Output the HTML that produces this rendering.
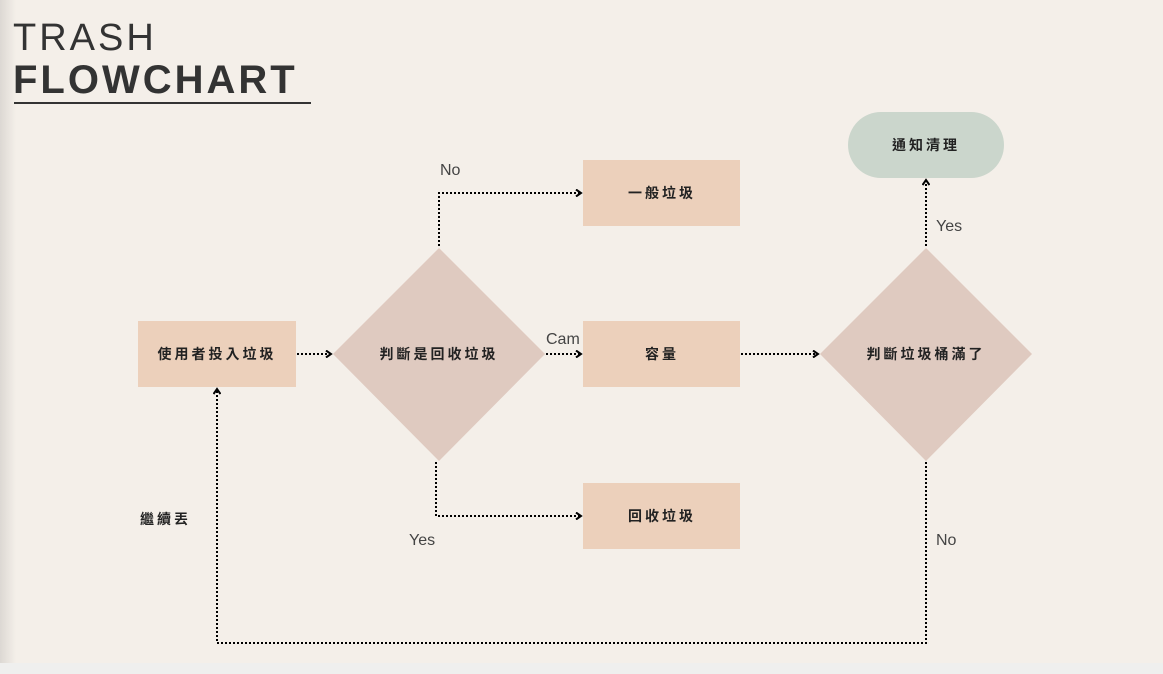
<!DOCTYPE html>
<html><head><meta charset="utf-8"><style>
html,body{margin:0;padding:0;}
body{width:1163px;height:674px;overflow:hidden;background:#f4efe9;position:relative;font-family:"Liberation Sans",sans-serif;}
.strip{position:absolute;left:0;top:663px;width:1163px;height:11px;background:#efefee;}
.shadow{position:absolute;left:0;top:0;width:16px;height:663px;background:linear-gradient(to right,#dcd8d3,#f4efe9);}
.t1{position:absolute;left:13px;top:17px;font-size:38px;letter-spacing:3px;color:#333;font-weight:normal;}
.t2{position:absolute;left:13px;top:58px;font-size:40px;letter-spacing:3px;color:#333;font-weight:bold;}
.ul{position:absolute;left:14px;top:102px;width:297px;height:2px;background:#333;}
svg{position:absolute;left:0;top:0;}
.cj{font-family:"Liberation Sans","Noto Sans CJK TC",sans-serif;font-weight:bold;font-size:14px;fill:#222;letter-spacing:3px;}
.lb{font-family:"Liberation Sans",sans-serif;font-size:16px;fill:#444;}
</style></head><body>
<div class="shadow"></div>
<div class="strip"></div>
<div class="t1">TRASH</div>
<div class="t2">FLOWCHART</div>
<div class="ul"></div>
<svg width="1163" height="674">
<defs><marker id="a" markerWidth="8" markerHeight="8" refX="6" refY="4" orient="auto" markerUnits="userSpaceOnUse"><path d="M1,0.5 L6,4 L1,7.5" fill="none" stroke="#000" stroke-width="2"/></marker></defs>
<rect x="138" y="321" width="158" height="66" fill="#ecd0bb"/>
<polygon points="439,248 545,354 439,461 333,354" fill="#dfcac0"/>
<rect x="583" y="160" width="157" height="66" fill="#ecd0bb"/>
<rect x="583" y="321" width="157" height="66" fill="#ecd0bb"/>
<rect x="583" y="483" width="157" height="66" fill="#ecd0bb"/>
<polygon points="926,248 1032,354 926,461 820,354" fill="#dfcac0"/>
<rect x="848" y="112" width="156" height="66" rx="33" fill="#cbd6cc"/>
<g fill="none" stroke="#000" stroke-width="2" stroke-dasharray="2,2">
<path d="M297,354 L331,354" marker-end="url(#a)"/>
<path d="M546,354 L581,354" marker-end="url(#a)"/>
<path d="M741,354 L818,354" marker-end="url(#a)"/>
<path d="M439,246 L439,193 L581,193" marker-end="url(#a)"/>
<path d="M436,462 L436,516 L581,516" marker-end="url(#a)"/>
<path d="M926,246 L926,180" marker-end="url(#a)"/>
<path d="M926,462 L926,643 L217,643 L217,389" marker-end="url(#a)"/>
</g>
<text class="cj" x="217" y="359" text-anchor="middle">使用者投入垃圾</text>
<text class="cj" x="439" y="359" text-anchor="middle">判斷是回收垃圾</text>
<text class="cj" x="662" y="198" text-anchor="middle">一般垃圾</text>
<text class="cj" x="662" y="359" text-anchor="middle">容量</text>
<text class="cj" x="662" y="521" text-anchor="middle">回收垃圾</text>
<text class="cj" x="926" y="359" text-anchor="middle">判斷垃圾桶滿了</text>
<text class="cj" x="926" y="150" text-anchor="middle">通知清理</text>
<text class="cj" x="140" y="524">繼續丟</text>
<text class="lb" x="440" y="175">No</text>
<text class="lb" x="546" y="344">Cam</text>
<text class="lb" x="409" y="545">Yes</text>
<text class="lb" x="936" y="231">Yes</text>
<text class="lb" x="936" y="545">No</text>
</svg>
</body></html>
